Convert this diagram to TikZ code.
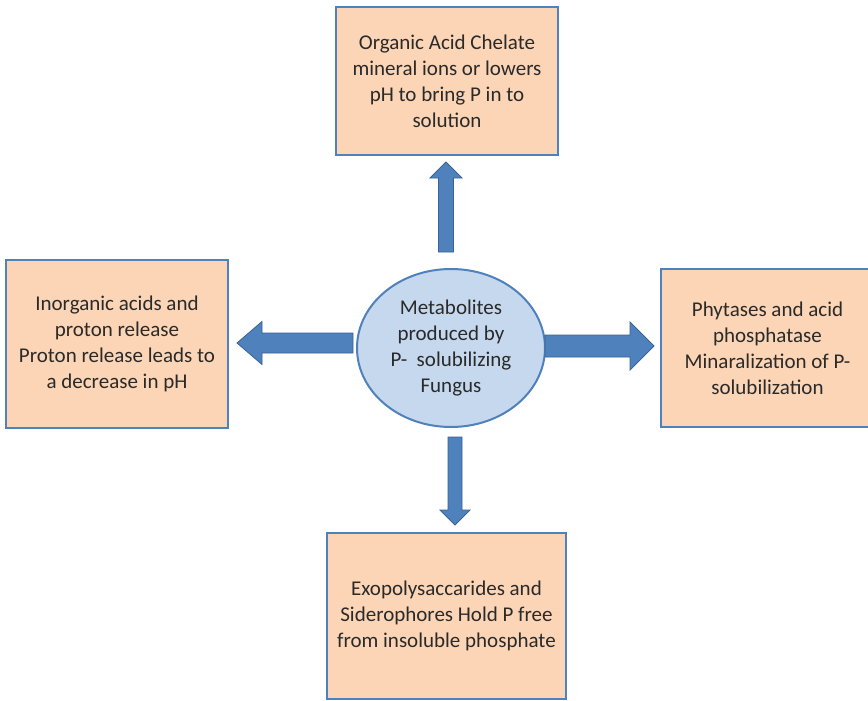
\documentclass[tikz,border=0pt]{standalone}
\usepackage{fontspec}
\setmainfont{Carlito}
\usetikzlibrary{shapes.geometric}
\definecolor{boxfill}{HTML}{FBD5B5}
\definecolor{boxline}{HTML}{4F81BD}
\definecolor{ellfill}{HTML}{C6D8EE}
\definecolor{arrfill}{HTML}{4F81BD}
\definecolor{arrline}{HTML}{3A6496}
\definecolor{txt}{HTML}{2A2A2A}
\tikzset{
  box/.style={draw=boxline, fill=boxfill, line width=2.2pt, rectangle, align=center,
    text=txt, font=\fontsize{21}{26}\selectfont, inner sep=0pt},
  ell/.style={draw=boxline, fill=ellfill, line width=2pt, ellipse, align=center,
    text=txt, font=\fontsize{21}{26}\selectfont, inner sep=0pt},
  blockarrow/.style={fill=arrfill, draw=arrline, line width=0.8pt, line join=miter}
}
\begin{document}
\begin{tikzpicture}[x=1pt,y=-1pt]
\useasboundingbox (0,0) rectangle (868,701);
\fill[white] (0,0) rectangle (868,701);
% boxes
\node[box, minimum width=222pt, minimum height=148pt] (top) at (447,81)
  {Organic Acid Chelate\\mineral ions or lowers\\pH to bring P in to\\solution};
\node[box, minimum width=222pt, minimum height=168pt] (left) at (117,344)
  {Inorganic acids and\\proton release\\Proton release leads to\\a decrease in pH};
\node[box, minimum width=213pt, minimum height=158pt] (right) at (767.5,348)
  {Phytases and acid\\phosphatase\\Minaralization of P-\\solubilization};
\node[box, minimum width=239pt, minimum height=166pt] (bottom) at (446.5,616)
  {Exopolysaccarides and\\Siderophores Hold P free\\from insoluble phosphate};
% center ellipse
\node[ell, minimum width=188pt, minimum height=158pt] (center) at (451,348)
  {Metabolites\\produced by\\P-\ \ solubilizing\\Fungus};
% block arrows
% up
\draw[blockarrow] (438.5,252) -- (438.5,178) -- (430,178) -- (446,162) -- (462,178)
  -- (453.5,178) -- (453.5,252) -- cycle;
% left
\draw[blockarrow] (353,333) -- (262,333) -- (262,321.5) -- (237,343) -- (262,364.5)
  -- (262,353) -- (353,353) -- cycle;
% right
\draw[blockarrow] (545,335) -- (630,335) -- (630,322) -- (654,346) -- (630,370)
  -- (630,357) -- (545,357) -- cycle;
% down
\draw[blockarrow] (448,437) -- (448,510) -- (440,510) -- (455,525) -- (470,510)
  -- (462,510) -- (462,437) -- cycle;
\end{tikzpicture}
\end{document}
